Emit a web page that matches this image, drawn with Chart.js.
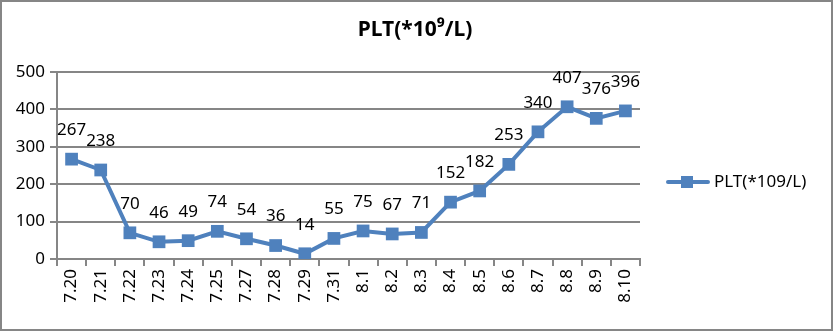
<!DOCTYPE html>
<html>
<head>
<meta charset="utf-8">
<script src="https://cdn.jsdelivr.net/npm/chart.js@4/dist/chart.umd.min.js"></script>
<style>
  html, body { margin: 0; padding: 0; background: #fff; }
  #wrap { width: 833px; height: 331px; position: relative; }
</style>
</head>
<body>
<div id="wrap"><canvas id="c" width="833" height="331"></canvas></div>
<script>
// PLT trend, July 20 – August 10
const chartTitle = 'PLT(*10⁹/L)';
const seriesName = 'PLT(*109/L)';
const dates = ['7.20', '7.21', '7.22', '7.23', '7.24', '7.25', '7.27', '7.28', '7.29', '7.31',
               '8.1', '8.2', '8.3', '8.4', '8.5', '8.6', '8.7', '8.8', '8.9', '8.10'];
const pltValues = [267, 238, 70, 46, 49, 74, 54, 36, 14, 55, 75, 67, 71, 152, 182, 253, 340, 407, 376, 396];
const yTicks = [0, 100, 200, 300, 400, 500];

const FONT = '"Noto Sans", "DejaVu Sans", sans-serif';
const BLUE = '#4F81BD';
const GREY = '#868686';

// legend swatch: short line with a square marker
function makeSwatch() {
  const cv = document.createElement('canvas');
  cv.width = 44; cv.height = 14;
  const g = cv.getContext('2d');
  g.strokeStyle = BLUE; g.lineWidth = 4; g.lineCap = 'round';
  g.beginPath(); g.moveTo(2, 7); g.lineTo(42, 7); g.stroke();
  g.fillStyle = BLUE; g.fillRect(15, 1, 12, 12);
  return cv;
}

const decorPlugin = {
  id: 'decor',
  beforeDraw(chart) {
    const ctx = chart.ctx;
    ctx.save();
    ctx.fillStyle = '#fff';
    ctx.fillRect(0, 0, chart.width, chart.height);
    ctx.restore();
  },
  afterDraw(chart) {
    const ctx = chart.ctx;
    ctx.save();
    // outer frame
    ctx.strokeStyle = GREY; ctx.lineWidth = 2;
    ctx.strokeRect(1, 1, chart.width - 2, chart.height - 2);
    // title
    ctx.fillStyle = '#000';
    ctx.font = 'bold 21px ' + FONT;
    ctx.textAlign = 'center'; ctx.textBaseline = 'middle';
    ctx.fillText(chartTitle, 415, 30);
    // value labels above each point
    ctx.font = '17px ' + FONT;
    const meta = chart.getDatasetMeta(0);
    meta.data.forEach((pt, i) => {
      ctx.fillText(String(chart.data.datasets[0].data[i]), pt.x, pt.y - 29);
    });
    // legend
    ctx.drawImage(makeSwatch(), 666, 175);
    ctx.textAlign = 'left';
    ctx.fillText(chart.data.datasets[0].label, 714, 182);
    ctx.restore();
  }
};

new Chart(document.getElementById('c'), {
  type: 'line',
  data: {
    labels: dates,
    datasets: [{
      label: seriesName,
      data: pltValues,
      borderColor: BLUE,
      backgroundColor: BLUE,
      borderWidth: 4,
      pointStyle: 'rect',
      pointRadius: 9,
      pointHoverRadius: 9,
      pointBorderWidth: 0,
      tension: 0,
      fill: false
    }]
  },
  options: {
    responsive: false,
    animation: false,
    events: [],
    layout: { padding: { left: 0, top: 72, right: 193, bottom: 0 } },
    plugins: { legend: { display: false }, title: { display: false }, tooltip: { enabled: false } },
    scales: {
      x: {
        offset: true,
        grid: { display: true, drawOnChartArea: false, drawTicks: true, tickLength: 7, color: GREY, lineWidth: 2, offset: true },
        border: { display: true, color: GREY, width: 2 },
        ticks: { color: '#000', font: { family: FONT, size: 17 }, minRotation: 90, maxRotation: 90, autoSkip: false, padding: 3 },
        afterFit(scale) { scale.height = 72; }
      },
      y: {
        min: 0, max: 500,
        afterBuildTicks(scale) { scale.ticks = yTicks.map(v => ({ value: v })); },
        grid: { color: GREY, lineWidth: 2, tickLength: 7, drawTicks: true },
        border: { display: true, color: GREY, width: 2 },
        ticks: { color: '#000', font: { family: FONT, size: 17 }, padding: 5 },
        afterFit(scale) { scale.width = 57; }
      }
    }
  },
  plugins: [decorPlugin]
});
</script>
</body>
</html>
